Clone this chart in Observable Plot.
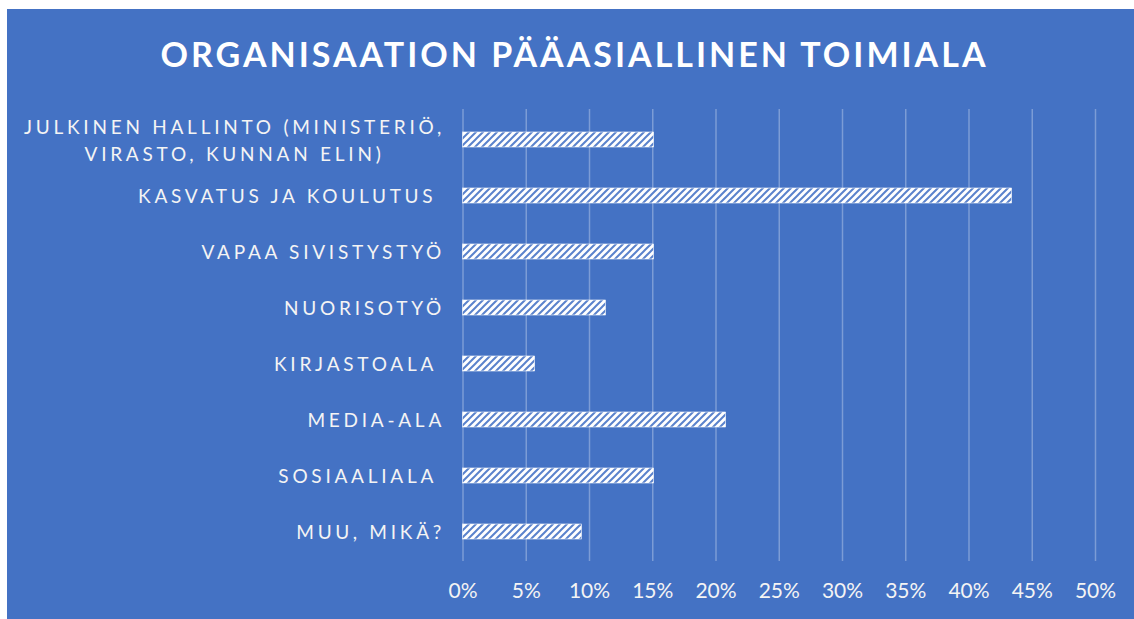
<!DOCTYPE html>
<html><head><meta charset="utf-8">
<script src="https://cdn.jsdelivr.net/npm/d3@7"></script>
<script src="https://cdn.jsdelivr.net/npm/@observablehq/plot@0.6"></script>
<style>
html,body{margin:0;padding:0;background:#fff;}
#card{position:absolute;left:7px;top:9px;width:1127px;height:610px;background:#4472C4;overflow:hidden;font-family:Lato,"Open Sans",sans-serif;}
#title{position:absolute;left:4px;top:23px;width:1127px;text-align:center;color:#fff;font-weight:bold;font-size:34px;letter-spacing:3px;line-height:44px;white-space:nowrap;}
#chart{position:absolute;left:0;top:81px;}
#chart svg g[aria-label="y-axis tick label"] text{letter-spacing:3.75px;}
</style></head><body>
<div id="card"><div id="title">ORGANISAATION PÄÄASIALLINEN TOIMIALA</div><div id="chart"></div></div>
<script>
const categories = [
  "JULKINEN HALLINTO (MINISTERIÖ,\nVIRASTO, KUNNAN ELIN)",
  "KASVATUS JA KOULUTUS\u00a0",
  "VAPAA SIVISTYSTYÖ",
  "NUORISOTYÖ",
  "KIRJASTOALA\u00a0",
  "MEDIA-ALA",
  "SOSIAALIALA\u00a0",
  "MUU, MIKÄ?"
];
const shares = [0.151, 0.434, 0.151, 0.113, 0.057, 0.208, 0.151, 0.094];
const xTicks = [0, 0.05, 0.10, 0.15, 0.20, 0.25, 0.30, 0.35, 0.40, 0.45, 0.50];

const data = categories.map((c, i) => ({category: c, share: shares[i]}));

const svg = Plot.plot({
  width: 1127,
  height: 529,
  marginLeft: 455.5,
  marginRight: 39,
  marginTop: 19,
  marginBottom: 58,
  style: {background: "transparent", fontFamily: "Lato, 'Open Sans', sans-serif", overflow: "visible"},
  x: {domain: [0, 0.5]},
  y: {domain: categories, paddingInner: 0.735, paddingOuter: 0.3675},
  marks: [
    Plot.gridX(xTicks, {stroke: "#ffffff", strokeOpacity: 0.3, strokeWidth: 1.5}),
    Plot.barX(data, {x: "share", y: "category", fill: "url(#hatch)", stroke: "#ffffff", strokeWidth: 0.6}),
    Plot.axisX(xTicks, {tickSize: 0, tickPadding: 22, fontSize: 21, fill: "#f4f4f4", tickFormat: d3.format(".0%"), label: null}),
    Plot.axisY({tickSize: 0, tickPadding: 18, dy: -1.5, fontSize: 19, fill: "#f4f4f4", lineHeight: 1.42, label: null})
  ]
});

d3.select(svg).insert("defs", ":first-child").html(
  `<pattern id="hatch" patternUnits="userSpaceOnUse" width="7" height="7">
     <rect width="7" height="7" fill="#ffffff"/>
     <path d="M-2,2 L2,-2 M0,7 L7,0 M5,9 L9,5" stroke="#5a82cc" stroke-width="2"/>
   </pattern>`
);

document.getElementById("chart").appendChild(svg);

// center the lines of the multi-line label as a block, right-aligned with the others
d3.select(svg).selectAll('g[aria-label="y-axis tick label"] text').each(function() {
  const tspans = this.querySelectorAll("tspan");
  if (tspans.length > 1) {
    const w = this.getBBox().width;
    this.setAttribute("text-anchor", "middle");
    tspans.forEach(t => t.setAttribute("x", -w / 2));
  }
});
</script>
</body></html>
